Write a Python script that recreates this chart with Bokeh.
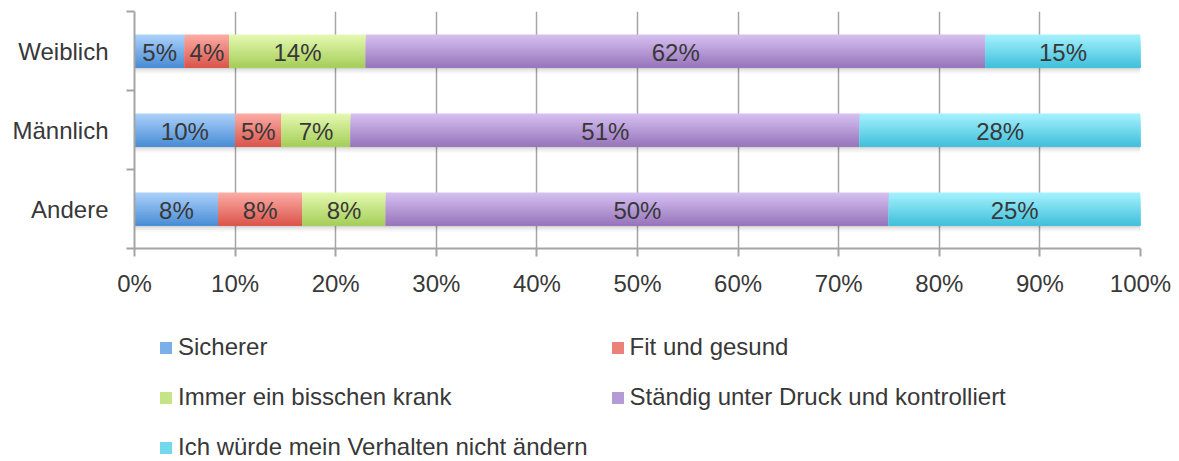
from bokeh.plotting import figure
from bokeh.layouts import column
from bokeh.models import FixedTicker, PrintfTickFormatter, Legend, LegendItem, Range1d
from bokeh.core.properties import value
from bokeh.embed import file_html
from bokeh.resources import INLINE

# ---------------- data ----------------
categories = ["Weiblich", "Männlich", "Andere"]
series = ["Sicherer", "Fit und gesund", "Immer ein bisschen krank",
          "Ständig unter Druck und kontrolliert",
          "Ich würde mein Verhalten nicht ändern"]
sicherer = [5.0, 10.0, 8.33]
fit_und_gesund = [4.4, 4.6, 8.33]
immer_krank = [13.6, 6.9, 8.33]
unter_druck = [61.6, 50.6, 50.0]
nicht_aendern = [15.4, 27.9, 25.0]
x_ticks = [0, 10, 20, 30, 40, 50, 60, 70, 80, 90, 100]

values = [sicherer, fit_und_gesund, immer_krank, unter_druck, nicht_aendern]

# ---------------- style ----------------
top_colors = ["#aad0fa", "#fbaba4", "#e4f8b0", "#d5bff0", "#a4f1fd"]
bottom_colors = ["#4b8ed6", "#db574d", "#a6cf5a", "#9876bc", "#42c0dc"]
FONT = "Liberation Sans"
FS = "24px"
TEXT_COLOR = "#383838"
GRID_COLOR = "#a4a4a4"
BAR_H = 0.42
NSTRIPS = 20
W = 1179
H_TOP = 310
H_LEG = 151


def mix(c1, c2, t):
    a = [int(c1[i:i + 2], 16) for i in (1, 3, 5)]
    b = [int(c2[i:i + 2], 16) for i in (1, 3, 5)]
    return "#" + "".join(f"{round(a[k] + (b[k] - a[k]) * t):02x}" for k in range(3))


n = len(categories)
ypos = [n - 0.5 - i for i in range(n)]
bounds = [float(i) for i in range(n + 1)]

p = figure(width=W, height=H_TOP, output_backend="svg", toolbar_location=None,
           x_range=Range1d(0, 100), y_range=Range1d(0, n),
           min_border_left=134, min_border_right=39, min_border_top=11,
           min_border_bottom=H_TOP - 248)
p.outline_line_color = None
p.background_fill_color = "white"

# soft shadow under the bars
lefts_all = [0.0] * n
totals = [sum(v[i] for v in values) for i in range(n)]
shadow_alpha = [0.17, 0.11, 0.06, 0.03]
sh = 0.019
for k, a in enumerate(shadow_alpha):
    yc = [y - BAR_H / 2 - sh * (k + 0.5) for y in ypos]
    p.hbar(y=yc, left=lefts_all, right=totals, height=sh, fill_color="black",
           fill_alpha=a, line_color=None)

# bars with a vertical gradient: each layer runs from its top edge down to the
# bar's bottom, drawn light to dark, so no seams appear
left = [0.0] * n
label_x, label_y, label_t = [], [], []
for s, vals in enumerate(values):
    right = [left[i] + vals[i] for i in range(n)]
    for k in range(NSTRIPS):
        t = k / (NSTRIPS - 1)
        h = BAR_H * (NSTRIPS - k) / NSTRIPS
        yc = [y - BAR_H / 2 + h / 2 for y in ypos]
        p.hbar(y=yc, left=left, right=right, height=h,
               fill_color=mix(top_colors[s], bottom_colors[s], t), line_color=None)
    for i in range(n):
        label_x.append(left[i] + vals[i] / 2)
        label_y.append(ypos[i])
        label_t.append(f"{vals[i]:.0f}%")
    left = right

p.text(x=label_x, y=label_y, text=label_t, text_align="center",
       text_baseline="middle", text_font=value(FONT), text_font_size=FS,
       text_color=TEXT_COLOR, y_offset=1)

# axes
p.xaxis.ticker = FixedTicker(ticks=x_ticks)
p.xaxis.formatter = PrintfTickFormatter(format="%d%%")
p.xaxis.major_tick_out = 8
p.xaxis.major_tick_in = 0
p.xaxis.major_label_standoff = 13

p.yaxis.ticker = FixedTicker(ticks=ypos, minor_ticks=bounds)
p.yaxis.major_label_overrides = {ypos[i]: categories[i] for i in range(n)}
p.yaxis.major_tick_out = 0
p.yaxis.major_tick_in = 0
p.yaxis.minor_tick_out = 8
p.yaxis.minor_tick_in = 0
p.yaxis.major_label_standoff = 18

for ax in (p.xaxis, p.yaxis):
    ax.axis_line_color = GRID_COLOR
    ax.axis_line_width = 2
    ax.major_tick_line_color = GRID_COLOR
    ax.major_tick_line_width = 2
    ax.minor_tick_line_color = GRID_COLOR
    ax.minor_tick_line_width = 2
    ax.major_label_text_font = FONT
    ax.major_label_text_font_size = FS
    ax.major_label_text_color = TEXT_COLOR
p.xaxis.minor_tick_line_color = None

p.xgrid.grid_line_color = GRID_COLOR
p.xgrid.grid_line_width = 1.5
p.ygrid.visible = False

# ---------------- legend (separate strip below the chart) ----------------
pl = figure(width=W, height=H_LEG, output_backend="svg", toolbar_location=None,
            x_axis_type=None, y_axis_type=None, min_border=0,
            x_range=Range1d(0, 1), y_range=Range1d(0, 1))
pl.outline_line_color = None
pl.grid.visible = False
swatches = []
for s in range(len(series)):
    # swatch renderers hold one item placed outside the visible range
    swatches.append(pl.hbar(y=[-10], left=[0], right=[0.1], height=1,
                            fill_color=mix(top_colors[s], bottom_colors[s], 0.5),
                            line_color=None))
legend = Legend(items=[LegendItem(label=series[s], renderers=[swatches[s]])
                       for s in range(len(series))],
                location=(24, 0), orientation="horizontal", ncols=2,
                glyph_width=15, glyph_height=15, label_standoff=5,
                label_height=28, spacing=22, padding=0, margin=0,
                border_line_color=None, background_fill_alpha=0,
                label_text_font=FONT, label_text_font_size=FS,
                label_text_color=TEXT_COLOR)
pl.add_layout(legend, "center")

layout = column(p, pl, spacing=0)
open("out.html", "w").write(file_html(layout, INLINE))
